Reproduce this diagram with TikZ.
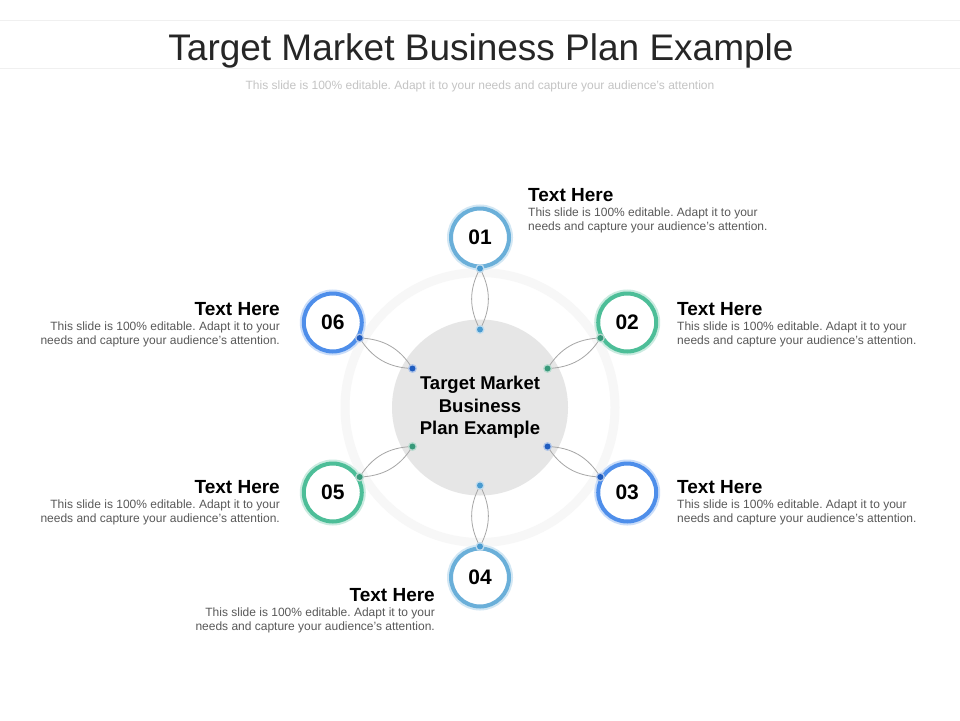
\documentclass[tikz,border=0pt]{standalone}
\usepackage{fontspec}
\setmainfont{Liberation Sans}
\usetikzlibrary{calc}
\definecolor{cA}{HTML}{6AAFD9}
\definecolor{cAd}{HTML}{4A9BD0}
\definecolor{cB}{HTML}{4DBE98}
\definecolor{cBd}{HTML}{38997A}
\definecolor{cC}{HTML}{4E8EEA}
\definecolor{cCd}{HTML}{1F5CBF}
\definecolor{hubgray}{HTML}{E6E6E6}
\definecolor{bodygray}{HTML}{595959}
\definecolor{subgray}{HTML}{C4C4C4}
\definecolor{titlegray}{HTML}{262626}
\definecolor{rulegray}{HTML}{F0F0F0}
\definecolor{lensgray}{HTML}{A6A6A6}
\definecolor{halo}{HTML}{F7F7F7}
\begin{document}
\frenchspacing
\begin{tikzpicture}[x=1pt,y=-1pt,
  ring/.style={circle,draw=#1,line width=4pt,minimum size=58pt,inner sep=0pt,fill=white,
    text=black,font=\bfseries\fontsize{21}{21}\selectfont},
  glow/.style={draw=#1!30,line width=8pt},
  lens/.style={draw=lensgray,line width=0.8pt},
  headtxt/.style={inner sep=0pt,font=\bfseries\fontsize{19}{19}\selectfont,text=black},
  bodytxt/.style={inner sep=0pt,font=\fontsize{12}{14}\selectfont,text=bodygray},
  dotmark/.style={fill=#1}
]
\useasboundingbox (0,0) rectangle (960,720);
\fill[white] (0,0) rectangle (960,720);
% header rules
\coordinate (r1a) at (0,20); \coordinate (r1b) at (960,20);
\coordinate (r2a) at (0,68); \coordinate (r2b) at (960,68);
\draw[rulegray,line width=1pt] (r1a) -- (r1b);
\draw[rulegray,line width=1pt] (r2a) -- (r2b);
\node[anchor=base,inner sep=0pt,text=titlegray,font=\fontsize{37}{37}\selectfont] (title) at (481,60) {Target Market Business Plan Example};
\node[anchor=base,inner sep=0pt,text=subgray,font=\fontsize{12}{12}\selectfont] (subtitle) at (480,89) {This slide is 100\% editable. Adapt it to your needs and capture your audience's attention};
% center
\coordinate (C) at (480,407.5);
\draw[halo,line width=9pt] (C) circle (135);
\node[circle,fill=hubgray,minimum size=176pt,inner sep=0pt,align=center,
  font=\bfseries\fontsize{18.5}{22.5}\selectfont] (hub) at (C) {Target Market\\Business\\Plan Example};
% positions
\foreach \i/\a in {1/-90,2/-30,3/30,4/90,5/150,6/210}{
  \coordinate (p\i) at ($(C)+(\a:170)$);
  \coordinate (o\i) at ($(C)+(\a:139)$);
  \coordinate (q\i) at ($(C)+(\a:78)$);
}
\foreach \i/\c in {1/cA,2/cB,3/cC,4/cA,5/cB,6/cC}{
  \draw[glow=\c] (p\i) circle (29);
}
\node[ring=cA] (n1) at (p1) {01};
\node[ring=cB] (n2) at (p2) {02};
\node[ring=cC] (n3) at (p3) {03};
\node[ring=cA] (n4) at (p4) {04};
\node[ring=cB] (n5) at (p5) {05};
\node[ring=cC] (n6) at (p6) {06};
% lenses
\foreach \i in {1,...,6}{
  \draw[lens] (q\i) to[bend left=28] (o\i);
  \draw[lens] (q\i) to[bend right=28] (o\i);
}
\foreach \i/\c in {1/cAd,2/cBd,3/cCd,4/cAd,5/cBd,6/cCd}{
  \fill[\c!35] (o\i) circle (4.5);
  \fill[\c!35] (q\i) circle (4.5);
  \fill[dotmark=\c] (o\i) circle (3);
  \fill[dotmark=\c] (q\i) circle (3);
}
% text blocks
\node[headtxt,anchor=base west] (h1) at (528,201) {Text Here};
\node[bodytxt,anchor=north west,align=left] (b1) at (528,207.5) {This slide is 100\% editable. Adapt it to your\\needs and capture your audience's attention.};
\node[headtxt,anchor=base west] (h2) at (677,315) {Text Here};
\node[bodytxt,anchor=north west,align=left] (b2) at (677,321.5) {This slide is 100\% editable. Adapt it to your\\needs and capture your audience's attention.};
\node[headtxt,anchor=base west] (h3) at (677,493) {Text Here};
\node[bodytxt,anchor=north west,align=left] (b3) at (677,499.5) {This slide is 100\% editable. Adapt it to your\\needs and capture your audience's attention.};
\node[headtxt,anchor=base east] (h4) at (435,601) {Text Here};
\node[bodytxt,anchor=north east,align=right] (b4) at (435,607.5) {This slide is 100\% editable. Adapt it to your\\needs and capture your audience's attention.};
\node[headtxt,anchor=base east] (h5) at (280,493) {Text Here};
\node[bodytxt,anchor=north east,align=right] (b5) at (280,499.5) {This slide is 100\% editable. Adapt it to your\\needs and capture your audience's attention.};
\node[headtxt,anchor=base east] (h6) at (280,315) {Text Here};
\node[bodytxt,anchor=north east,align=right] (b6) at (280,321.5) {This slide is 100\% editable. Adapt it to your\\needs and capture your audience's attention.};
\end{tikzpicture}
\end{document}
